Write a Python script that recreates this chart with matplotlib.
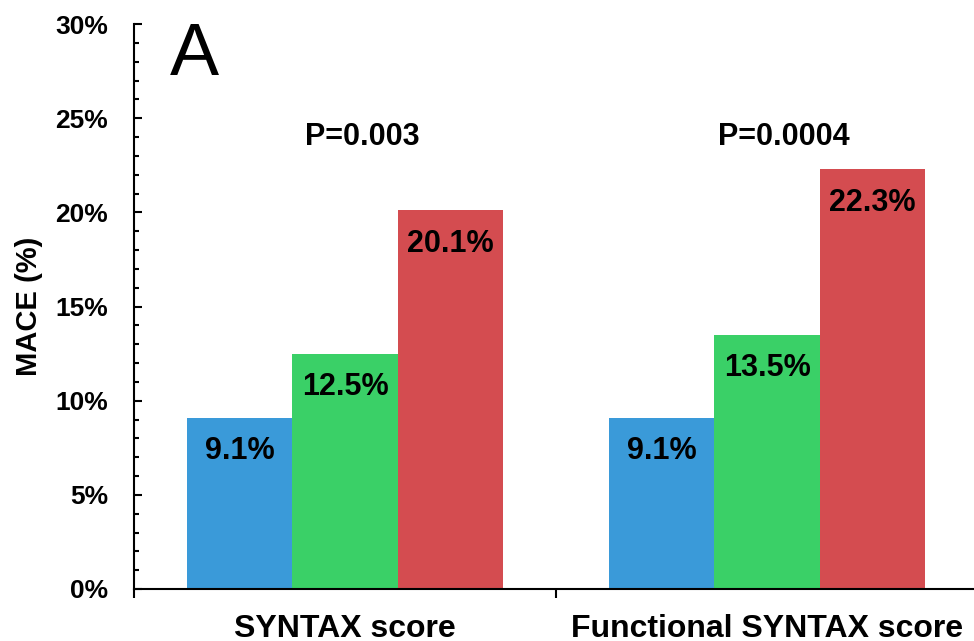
import matplotlib
matplotlib.use("Agg")
import matplotlib.pyplot as plt
import numpy as np
from matplotlib.ticker import FixedLocator, MultipleLocator, FuncFormatter

plt.rcParams['font.family'] = ['Liberation Sans', 'DejaVu Sans']
plt.rcParams['font.weight'] = 'bold'

# MACE rates by score tertile (low / mid / high)
groups = ['SYNTAX score', 'Functional SYNTAX score']
low = [9.1, 9.1]
mid = [12.5, 13.5]
high = [20.1, 22.3]
p_values = ['P=0.003', 'P=0.0004']
colors = ['#3A9AD9', '#3AD067', '#D44C50']

fig = plt.figure(figsize=(9.74, 6.41), dpi=100)
ax = fig.add_axes([134 / 974, 1 - 589 / 641, (978 - 134) / 974, (589 - 24) / 641])

centers = np.arange(len(groups)) + 0.5
width = 0.25
for k, vals in enumerate([low, mid, high]):
    xs = centers + (k - 1) * width
    ax.bar(xs, vals, width=width, color=colors[k], edgecolor='none')
    for x, v in zip(xs, vals):
        ax.annotate(f'{v:.1f}%', (x, v), xytext=(0, -30), textcoords='offset points',
                    ha='center', va='baseline', fontsize=22, fontweight='bold')

for x, p in zip(centers, p_values):
    ax.text(x + 0.04, 23.55, p, ha='center', va='baseline', fontsize=22, fontweight='bold')

ax.text(0.085, 27.3, 'A', ha='left', va='baseline', fontsize=53, fontweight='normal')

ax.set_xlim(0, 2)
ax.set_ylim(0, 30)

# y axis: percent ticks every 5, minor every 1, pointing inward
ax.yaxis.set_major_locator(MultipleLocator(5))
ax.yaxis.set_minor_locator(MultipleLocator(1))
ax.yaxis.set_major_formatter(FuncFormatter(lambda v, _: f'{v:.0f}%'))
ax.tick_params(axis='y', which='major', direction='in', length=6, width=1.5,
               labelsize=19, pad=18.5)
ax.tick_params(axis='y', which='minor', direction='in', length=3.5, width=1.5)
for lab in ax.get_yticklabels():
    lab.set_fontweight('bold')

# x axis: separator ticks between groups, group names centred below
ax.xaxis.set_major_locator(FixedLocator([0, 1, 2]))
ax.xaxis.set_major_formatter(FuncFormatter(lambda v, _: ''))
ax.xaxis.set_minor_locator(FixedLocator(centers))
ax.xaxis.set_minor_formatter(FuncFormatter(lambda v, i: groups[i] if i is not None else ''))
ax.tick_params(axis='x', which='major', direction='out', length=6.5, width=1.5)
ax.tick_params(axis='x', which='minor', length=0, labelsize=23, pad=18)
for lab in ax.get_xticklabels(minor=True):
    lab.set_fontweight('bold')

ax.set_ylabel('MACE (%)', fontsize=21, fontweight='bold', labelpad=9)

for side in ['top', 'right']:
    ax.spines[side].set_visible(False)
for side in ['left', 'bottom']:
    ax.spines[side].set_linewidth(1.5)

fig.savefig('out.png', dpi=100)
